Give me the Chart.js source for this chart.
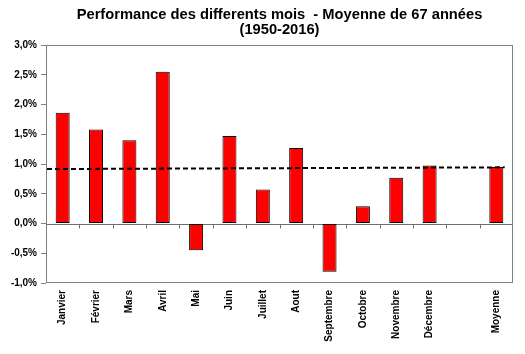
<!DOCTYPE html>
<html>
<head>
<meta charset="utf-8">
<script src="https://cdn.jsdelivr.net/npm/chart.js@4/dist/chart.umd.min.js"></script>
<style>
html,body{margin:0;padding:0;background:#fff;}
canvas{display:block;}
</style>
</head>
<body>
<canvas id="c" width="525" height="354"></canvas>
<script>
const categories = ['Janvier','Février','Mars','Avril','Mai','Juin','Juillet','Aout','Septembre','Octobre','Novembre','Décembre','','Moyenne'];
const performance = [1.86,1.58,1.40,2.55,-0.45,1.47,0.57,1.27,-0.81,0.29,0.77,0.975,null,0.95];
const avgLineX = [-0.47, 13.25];
const avgLineY = [0.915, 0.944];
const yTicks = [-1.0,-0.5,0.0,0.5,1.0,1.5,2.0,2.5,3.0];
const titleLines = ['Performance des differents mois  - Moyenne de 67 années','(1950-2016)'];

const FONT = '"Liberation Sans", Arial, sans-serif';

const framePlugin = {
  id: 'frame',
  beforeDatasetsDraw(chart) {
    const {ctx, chartArea: a, scales} = chart;
    ctx.save();
    ctx.strokeStyle = '#808080';
    ctx.lineWidth = 1;
    ctx.strokeRect(Math.round(a.left)+0.5, Math.round(a.top)+0.5, Math.round(a.right-a.left)-1, Math.round(a.bottom-a.top)-1);
    const y0 = Math.round(scales.y.getPixelForValue(0)) + 0.5;
    ctx.strokeStyle = '#707070';
    ctx.beginPath();
    ctx.moveTo(a.left, y0); ctx.lineTo(a.right, y0);
    const xs = scales.x;
    for (let i = 0; i < categories.length - 1; i++) {
      const xb = Math.round((xs.getPixelForValue(i) + xs.getPixelForValue(i+1)) / 2) + 0.5;
      ctx.moveTo(xb, y0); ctx.lineTo(xb, y0 + 4);
    }
    ctx.stroke();
    ctx.restore();
  }
};

new Chart(document.getElementById('c'), {
  data: {
    labels: categories,
    datasets: [
      {
        type: 'line',
        data: avgLineX.map((x, i) => ({x: x, y: avgLineY[i]})),
        xAxisID: 'x2',
        borderColor: '#000',
        borderWidth: 2,
        borderDash: [5, 3],
        pointRadius: 0,
        fill: false,
        order: 0
      },
      {
        type: 'bar',
        data: performance,
        xAxisID: 'x',
        backgroundColor: '#ff0000',
        borderColor: '#000',
        borderWidth: 1,
        borderSkipped: false,
        grouped: false,
        categoryPercentage: 1,
        barPercentage: 0.42,
        order: 1
      }
    ]
  },
  options: {
    responsive: false,
    animation: false,
    layout: {padding: {left: 0, right: 12, top: 0, bottom: 0}},
    plugins: {
      legend: {display: false},
      tooltip: {enabled: false},
      title: {
        display: true,
        text: titleLines,
        fullSize: false,
        color: '#000',
        font: {family: FONT, size: 14.7, weight: 'bold', lineHeight: 1.0},
        padding: {top: 8, bottom: 7.6}
      }
    },
    scales: {
      x: {
        type: 'category',
        offset: true,
        grid: {display: false, drawTicks: false},
        border: {display: false},
        ticks: {
          minRotation: 90, maxRotation: 90, autoSkip: false, padding: 7,
          color: '#000',
          font: {family: FONT, size: 10, weight: 'bold'}
        },
        afterFit(s) { s.height = 71; }
      },
      x2: {
        type: 'linear', display: false, offset: false, min: -0.5, max: 13.5
      },
      y: {
        min: -1, max: 3,
        afterBuildTicks(s) { s.ticks = yTicks.map(v => ({value: v})); },
        grid: {drawOnChartArea: false, drawTicks: true, tickLength: 5, color: '#808080'},
        border: {display: false},
        ticks: {
          padding: 4,
          color: '#000',
          font: {family: FONT, size: 10, weight: 'bold'},
          callback: v => v.toFixed(1).replace('.', ',') + '%'
        },
        afterFit(s) { s.width = 46; }
      }
    }
  },
  plugins: [framePlugin]
});
</script>
</body>
</html>
